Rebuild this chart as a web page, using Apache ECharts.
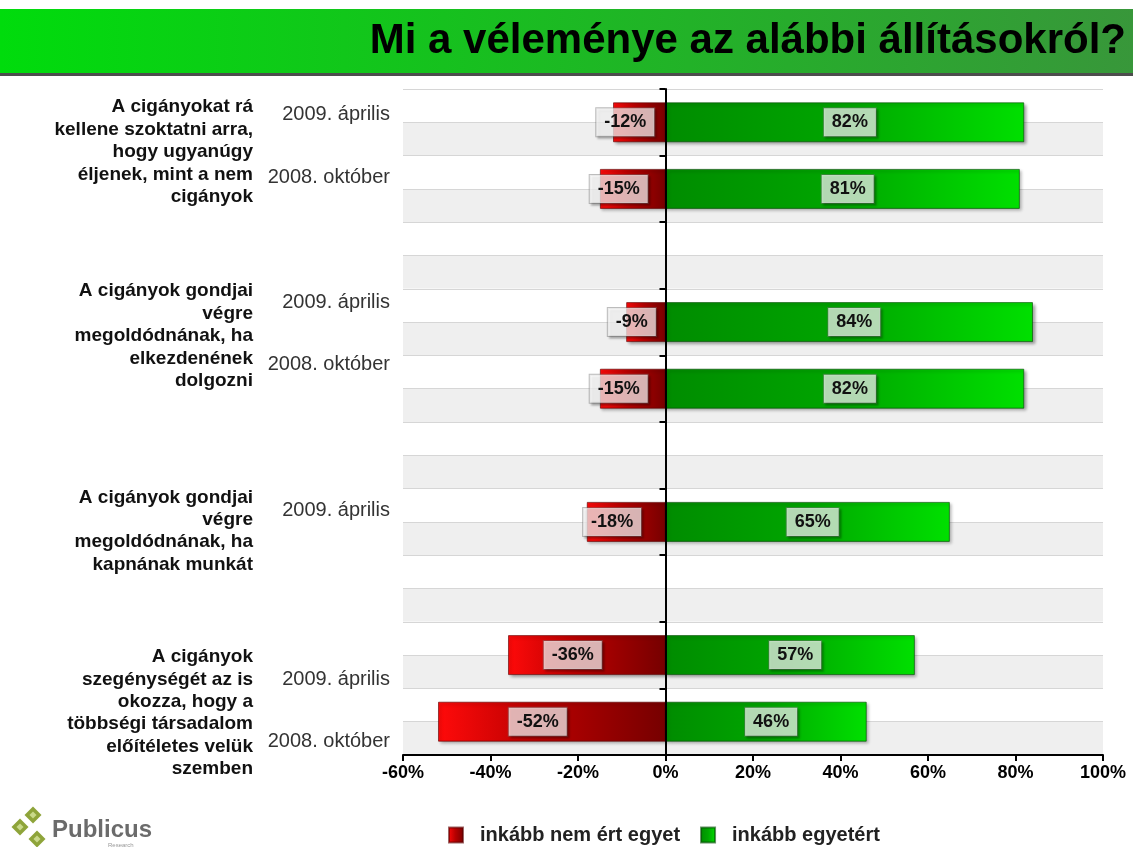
<!DOCTYPE html>
<html><head><meta charset="utf-8">
<script src="https://cdn.jsdelivr.net/npm/echarts@6/dist/echarts.min.js"></script>
<style>html,body{margin:0;padding:0;background:#fff}#c{width:1133px;height:847px}</style>
</head><body><div id="c"></div>
<script>
// ---- data ----
const title = 'Mi a véleménye az alábbi állításokról?';
const dateLabels = ['2009. április', '2008. október', '', '2009. április', '2008. október', '', '2009. április', '', '2009. április', '2008. október'];
const questions = [
  'A cigányokat rá\nkellene szoktatni arra,\nhogy ugyanúgy\néljenek, mint a nem\ncigányok',
  'A cigányok gondjai\nvégre\nmegoldódnának, ha\nelkezdenének\ndolgozni',
  'A cigányok gondjai\nvégre\nmegoldódnának, ha\nkapnának munkát',
  'A cigányok\nszegénységét az is\nokozza, hogy a\ntöbbségi társadalom\nelőítéletes velük\nszemben'
];
const seriesNames = ['inkább nem ért egyet', 'inkább egyetért'];
const disagree = [-12, -15, null, -9, -15, null, -18, null, -36, -52];
const agree = [82, 81, null, 84, 82, null, 65, null, 57, 46];
const xMin = -60, xMax = 100, xStep = 20;

// ---- layout / style ----
const FONT = '"Liberation Sans", Arial, Helvetica, sans-serif';
const labelShift = [-8, -11, 0, -20, -24, 0, -11, 0, 24, 20];
const questionCenters = [152, 336, 531, 713];
const rich = {};
labelShift.forEach((d, i) => {
  rich['s' + i] = {
    fontSize: 20, color: '#333', fontFamily: FONT,
    padding: d >= 0 ? [2 * d, 0, 0, 0] : [0, 0, -2 * d, 0]
  };
});
const slotIds = dateLabels.map((_, i) => 'c' + i);
const halfIds = Array.from({length: dateLabels.length * 2}, (_, i) => 'h' + i);

const redGrad = new echarts.graphic.LinearGradient(0, 0, 1, 0, [
  {offset: 0, color: '#ff0a0a'}, {offset: 0.45, color: '#b80000'}, {offset: 1, color: '#760000'}]);
const greenGrad = new echarts.graphic.LinearGradient(0, 0, 1, 0, [
  {offset: 0, color: '#008c00'}, {offset: 0.5, color: '#00a600'}, {offset: 1, color: '#00e000'}]);

const labelBase = {
  show: true, position: 'inside', fontSize: 18, fontWeight: 'bold', color: '#111', fontFamily: FONT,
  formatter: p => p.value + '%',
  backgroundColor: 'rgba(255,255,255,0.7)', borderColor: 'rgba(110,110,110,0.45)', borderWidth: 1,
  padding: [6, 8, 4, 8], shadowColor: 'rgba(0,0,0,0.35)', shadowOffsetX: 2, shadowOffsetY: 2, shadowBlur: 2
};
const barShadow = {shadowColor: 'rgba(0,0,0,0.35)', shadowOffsetX: 2, shadowOffsetY: 2, shadowBlur: 3};

const graphics = [
  {type: 'rect', shape: {x: 0, y: 9, width: 1133, height: 64}, style: {fill: new echarts.graphic.LinearGradient(0, 0, 1, 0, [{offset: 0, color: '#00dc0c'}, {offset: 1, color: '#38973a'}])}},
  {type: 'rect', shape: {x: 0, y: 73, width: 1133, height: 3}, style: {fill: '#4d4d4d'}},
  {type: 'text', x: 1126, y: 41, style: {text: title, font: 'bold 42px ' + FONT, fill: '#000', align: 'right', verticalAlign: 'middle', textAlign: 'right', textVerticalAlign: 'middle'}}
];
questions.forEach((q, i) => {
  graphics.push({type: 'text', x: 253, y: questionCenters[i], style: {
    text: q, font: 'bold 19px ' + FONT, fill: '#111', lineHeight: 22.4,
    align: 'right', verticalAlign: 'middle', textAlign: 'right', textVerticalAlign: 'middle'}});
});
// logo
[[33, 815], [20, 827], [37, 839]].forEach(([cx, cy]) => {
  graphics.push({type: 'rect', x: cx, y: cy, rotation: Math.PI / 4, shape: {x: -6, y: -6, width: 12, height: 12}, style: {fill: '#8ea43a'}});
  graphics.push({type: 'rect', x: cx, y: cy, rotation: Math.PI / 4, shape: {x: -2.5, y: -2.5, width: 5, height: 5}, style: {fill: '#c9d98a'}});
});
graphics.push({type: 'text', x: 52, y: 830, style: {text: 'Publicus', font: 'bold 24px ' + FONT, fill: '#6b6b6b', verticalAlign: 'middle', textVerticalAlign: 'middle'}});
graphics.push({type: 'text', x: 108, y: 845, style: {text: 'Research', font: '6px ' + FONT, fill: '#999', verticalAlign: 'middle', textVerticalAlign: 'middle'}});

const chart = echarts.init(document.getElementById('c'), null, {renderer: 'canvas'});
chart.setOption({
  backgroundColor: '#fff',
  animation: false,
  textStyle: {fontFamily: FONT},
  grid: {left: 403, right: 30, top: 89, bottom: 92, containLabel: false},
  legend: {
    left: 443, top: 820, itemWidth: 14, itemHeight: 15, itemGap: 20, icon: 'rect',
    textStyle: {fontSize: 20, fontWeight: 'bold', color: '#222', fontFamily: FONT, padding: [0, 0, 0, 12]},
    data: seriesNames
  },
  xAxis: {
    type: 'value', min: xMin, max: xMax, interval: xStep,
    axisLine: {show: true, lineStyle: {color: '#000', width: 2}},
    axisTick: {show: true, length: 6, lineStyle: {color: '#000', width: 2}},
    axisLabel: {formatter: '{value}%', fontSize: 18, fontWeight: 'bold', color: '#000', margin: 9, fontFamily: FONT},
    splitLine: {show: false}
  },
  yAxis: [
    {
      type: 'category', inverse: true, position: 'left', data: slotIds,
      axisLine: {show: false, onZero: false}, axisTick: {show: false}, splitLine: {show: false},
      axisLabel: {show: true, margin: 13, interval: 0, formatter: (v, i) => dateLabels[i] ? '{s' + i + '|' + dateLabels[i] + '}' : '', rich: rich}
    },
    {
      type: 'category', inverse: true, position: 'left', data: halfIds, z: 0,
      axisLine: {show: false, onZero: false}, axisTick: {show: false}, axisLabel: {show: false},
      splitLine: {show: true, interval: 0, lineStyle: {color: '#d6d6d6', width: 1}},
      splitArea: {show: true, interval: 0, areaStyle: {color: ['#ffffff', '#efefef']}}
    },
    {
      type: 'category', inverse: true, position: 'left', data: slotIds, z: 5,
      axisLine: {show: true, onZero: true, lineStyle: {color: '#000', width: 2}},
      axisTick: {show: true, length: 6, interval: 0, lineStyle: {color: '#000', width: 2}},
      axisLabel: {show: false}, splitLine: {show: false}, splitArea: {show: false}
    }
  ],
  series: [
    {
      name: seriesNames[0], type: 'bar', yAxisIndex: 0, stack: 'tot', barWidth: 40, data: disagree,
      itemStyle: Object.assign({color: redGrad, borderColor: 'rgba(90,0,0,0.6)', borderWidth: 1}, barShadow),
      label: Object.assign({}, labelBase, {offset: [-14, 0]})
    },
    {
      name: seriesNames[1], type: 'bar', yAxisIndex: 0, stack: 'tot', barWidth: 40, data: agree,
      itemStyle: Object.assign({color: greenGrad, borderColor: 'rgba(0,70,0,0.6)', borderWidth: 1}, barShadow),
      label: Object.assign({}, labelBase, {offset: [5, 0]})
    }
  ],
  graphic: graphics
});
</script></body></html>
